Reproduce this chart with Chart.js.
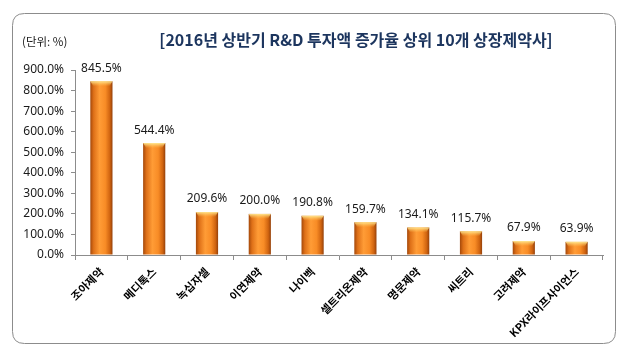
<!DOCTYPE html>
<html>
<head>
<meta charset="utf-8">
<script src="https://cdn.jsdelivr.net/npm/chart.js@4/dist/chart.umd.min.js"></script>
<style>
  html, body { margin: 0; padding: 0; background: #fff; }
  #wrap { width: 630px; height: 358px; position: relative; }
</style>
</head>
<body>
<div id="wrap"><canvas id="c" width="630" height="358"></canvas></div>
<script>
const categories = ['조아제약','메디톡스','녹십자셀','이연제약','나이벡','셀트리온제약','명문제약','씨트리','고려제약','KPX라이프사이언스'];
const values = [845.5, 544.4, 209.6, 200.0, 190.8, 159.7, 134.1, 115.7, 67.9, 63.9];
const yTickMin = 0;
const yTickMax = 900;
const yTickStep = 100;
const titleText = '[2016년 상반기 R&D 투자액 증가율 상위 10개 상장제약사]';
const unitText = '(단위: %)';

const KR = '"Noto Sans CJK KR", "Noto Sans", sans-serif';
const BAR_PCT = 0.42;

function barGradient(context) {
  const chart = context.chart;
  const xs = chart.scales && chart.scales.x;
  if (!xs || !isFinite(xs.width) || xs.width <= 0) return '#F7931E';
  const cx = xs.getPixelForValue(context.dataIndex);
  const w = (xs.width / categories.length) * BAR_PCT;
  const x0 = cx - w / 2, x1 = cx + w / 2;
  const g = chart.ctx.createLinearGradient(x0, 0, x1, 0);
  g.addColorStop(0, '#A4480A');
  g.addColorStop(0.15, '#DE7018');
  g.addColorStop(0.42, '#FF9C36');
  g.addColorStop(0.68, '#F88C26');
  g.addColorStop(0.88, '#D06410');
  g.addColorStop(1, '#94400A');
  return g;
}

const framePlugin = {
  id: 'frame',
  beforeDraw(chart) {
    const ctx = chart.ctx;
    ctx.save();
    ctx.fillStyle = '#fff';
    ctx.fillRect(0, 0, chart.width, chart.height);
    const x = 12.5, y = 13.5, w = 603, h = 330, r = 12;
    ctx.beginPath();
    ctx.moveTo(x + r, y);
    ctx.lineTo(x + w - r, y);
    ctx.quadraticCurveTo(x + w, y, x + w, y + r);
    ctx.lineTo(x + w, y + h - r);
    ctx.quadraticCurveTo(x + w, y + h, x + w - r, y + h);
    ctx.lineTo(x + r, y + h);
    ctx.quadraticCurveTo(x, y + h, x, y + h - r);
    ctx.lineTo(x, y + r);
    ctx.quadraticCurveTo(x, y, x + r, y);
    ctx.closePath();
    ctx.strokeStyle = '#8C8C8C';
    ctx.lineWidth = 1;
    ctx.stroke();
    ctx.fillStyle = '#1C355E';
    ctx.font = 'bold 16px ' + KR;
    ctx.textAlign = 'center';
    ctx.textBaseline = 'middle';
    ctx.fillText(titleText, 356, 40);
    ctx.fillStyle = '#1a1a1a';
    ctx.font = '11.5px ' + KR;
    ctx.textAlign = 'left';
    ctx.fillText(unitText, 22, 42);
    ctx.restore();
  },
  afterDatasetsDraw(chart) {
    const ctx = chart.ctx;
    const meta = chart.getDatasetMeta(0);
    ctx.save();
    meta.data.forEach((el, i) => {
      const x0 = el.x - el.width / 2;
      const w = el.width;
      const g = ctx.createLinearGradient(0, el.y, 0, el.y + 5);
      g.addColorStop(0, 'rgba(255,235,150,0.95)');
      g.addColorStop(1, 'rgba(255,200,90,0)');
      ctx.fillStyle = g;
      ctx.beginPath();
      ctx.moveTo(x0, el.y);
      ctx.lineTo(x0 + w, el.y);
      ctx.lineTo(x0 + w - 3, el.y + 5);
      ctx.lineTo(x0 + 3, el.y + 5);
      ctx.closePath();
      ctx.fill();
      ctx.fillStyle = '#1a1a1a';
      ctx.font = '12px "Noto Sans", sans-serif';
      ctx.textAlign = 'center';
      ctx.textBaseline = 'middle';
      ctx.fillText(values[i].toFixed(1) + '%', el.x, el.y - 13);
    });
    ctx.restore();
  }
};

new Chart(document.getElementById('c'), {
  type: 'bar',
  data: {
    labels: categories,
    datasets: [{
      data: values,
      backgroundColor: barGradient,
      borderWidth: 0,
      barPercentage: BAR_PCT,
      categoryPercentage: 1.0
    }]
  },
  options: {
    responsive: false,
    animation: false,
    devicePixelRatio: 1,
    layout: { padding: { left: 0, right: 27, top: 70, bottom: 0 } },
    plugins: {
      legend: { display: false },
      tooltip: { enabled: false },
      title: { display: false }
    },
    scales: {
      x: {
        grid: { drawOnChartArea: false, drawTicks: true, tickLength: 5, color: '#8C8C8C', offset: true },
        border: { color: '#8C8C8C', width: 1 },
        ticks: {
          color: '#000',
          font: { family: KR, size: 11, weight: 'bold' },
          minRotation: 45,
          maxRotation: 45,
          padding: 5,
          autoSkip: false
        },
        afterFit(scale) { scale.height = 103; }
      },
      y: {
        min: yTickMin,
        max: yTickMax,
        grid: { drawOnChartArea: false, drawTicks: true, tickLength: 4, color: '#8C8C8C' },
        border: { color: '#8C8C8C', width: 1 },
        ticks: {
          stepSize: yTickStep,
          color: '#1a1a1a',
          font: { family: '"Noto Sans", sans-serif', size: 12 },
          padding: 7,
          callback: (v) => Number(v).toFixed(1) + '%'
        },
        afterFit(scale) { scale.width = 75; }
      }
    }
  },
  plugins: [framePlugin]
});
</script>
</body>
</html>
